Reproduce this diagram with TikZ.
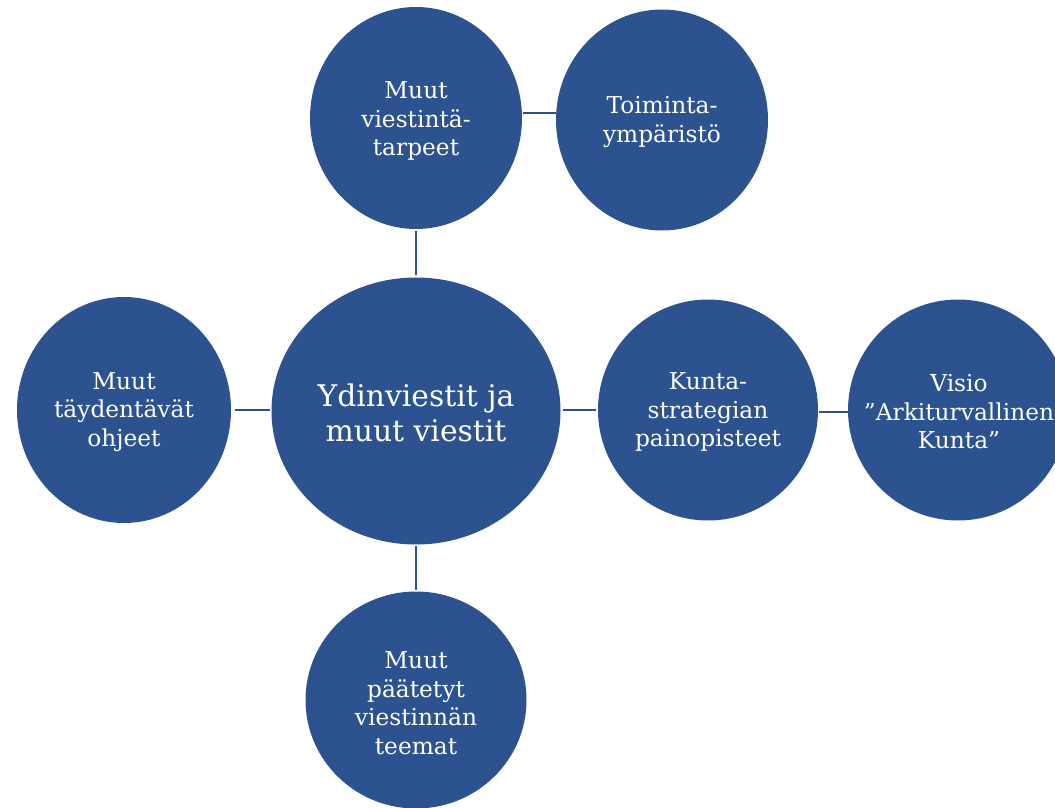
\documentclass[tikz,border=0pt]{standalone}
\usepackage{fontspec}
\setmainfont{DejaVu Serif}
\usetikzlibrary{shapes.geometric}
\definecolor{circblue}{RGB}{44,82,144}
\tikzset{
  bubble/.style={ellipse, fill=circblue, draw=none, inner sep=0pt},
  bubbletext/.style={inner sep=0pt, align=center, text=white,
    font=\fontsize{23.3}{28.5}\selectfont},
  link/.style={draw=circblue, line width=2.5pt}
}
\begin{document}
\begin{tikzpicture}[x=1pt,y=-1pt]
\useasboundingbox (0,0) rectangle (1055,808);
\clip (0,0) rectangle (1055,808);
\node[bubble, minimum width=289pt, minimum height=267pt] (core) at (416,411) {};
\node[bubbletext, font=\fontsize{29.8}{35}\selectfont] (coretext) at (416,413) {Ydinviestit ja\\muut viestit};
\node[bubble, minimum width=212pt, minimum height=222pt] (needs) at (416,118) {};
\node[bubbletext] (needstext) at (416,121) {Muut\\viestintä-\\tarpeet};
\node[bubble, minimum width=212pt, minimum height=221pt] (env) at (662,120) {};
\node[bubbletext] (envtext) at (662,122) {Toiminta-\\ympäristö};
\node[bubble, minimum width=214pt, minimum height=226pt] (guide) at (124,410) {};
\node[bubbletext] (guidetext) at (124,412) {Muut\\täydentävät\\ohjeet};
\node[bubble, minimum width=220pt, minimum height=221pt] (strat) at (708,410) {};
\node[bubbletext] (strattext) at (708,412) {Kunta-\\strategian\\painopisteet};
\node[bubble, minimum width=220pt, minimum height=221pt] (visio) at (958,410) {};
\node[bubbletext] (visiotext) at (959,412) {Visio\\”Arkiturvallinen\\Kunta”};
\node[bubble, minimum width=221pt, minimum height=217pt] (themes) at (416,700) {};
\node[bubbletext] (themestext) at (416,703) {Muut\\päätetyt\\viestinnän\\teemat};
\coordinate (n1) at (416,231);
\coordinate (n2) at (416,275);
\draw[link] (n1) -- (n2);
\coordinate (e1) at (523,113);
\coordinate (e2) at (556,113);
\draw[link] (e1) -- (e2);
\coordinate (g1) at (235,410);
\coordinate (g2) at (270,410);
\draw[link] (g1) -- (g2);
\coordinate (s1) at (563,410);
\coordinate (s2) at (596,410);
\draw[link] (s1) -- (s2);
\coordinate (v1) at (819,412);
\coordinate (v2) at (848,412);
\draw[link] (v1) -- (v2);
\coordinate (t1) at (416,546);
\coordinate (t2) at (416,590);
\draw[link] (t1) -- (t2);
\end{tikzpicture}
\end{document}
